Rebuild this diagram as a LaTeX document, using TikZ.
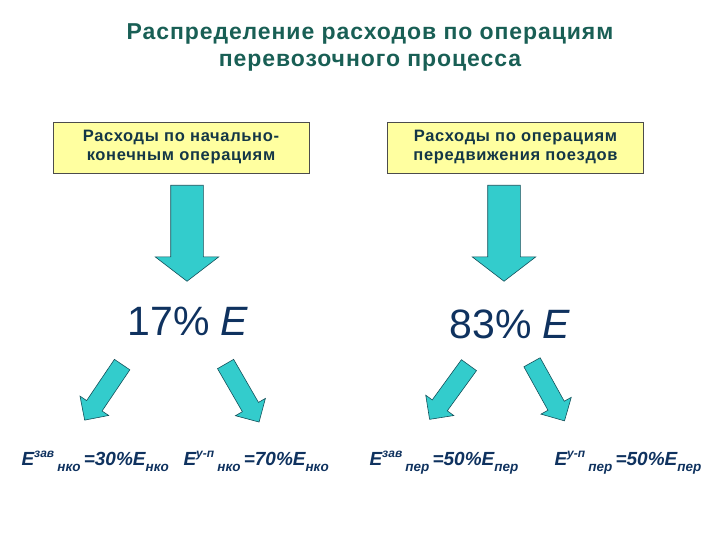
\documentclass[tikz,border=0pt]{standalone}
\usepackage{fontspec}
\setmainfont{Liberation Sans}
\newfontfamily\widesans[LetterSpace=4]{Liberation Sans}
\usetikzlibrary{shapes.arrows}
\definecolor{titlegreen}{RGB}{25,95,85}
\definecolor{boxtext}{RGB}{20,55,70}
\definecolor{pctblue}{RGB}{15,50,95}
\definecolor{arrowcyan}{RGB}{51,204,204}
\definecolor{arrowline}{RGB}{20,80,90}
\definecolor{boxyellow}{RGB}{255,255,160}
\newcommand{\upidx}[1]{\raisebox{0.42em}{\fontsize{12}{12}\selectfont #1}}
\newcommand{\lowidx}[1]{\raisebox{-0.32em}{\fontsize{13.5}{13.5}\selectfont #1}}

\begin{document}
\begin{tikzpicture}[x=1pt,y=-1pt,
      costbox/.style={draw=black!70,fill=boxyellow,thin,minimum width=256,minimum height=51,
        align=center,text=boxtext,font=\widesans\fontsize{16.5}{19}\selectfont\bfseries},
      fatarrow/.style={single arrow,draw=arrowline,fill=arrowcyan,line width=0.6pt,inner xsep=0pt},
      downarrow/.style={fatarrow,minimum height=96,inner ysep=16pt,single arrow head extend=15.5pt,
        single arrow tip angle=105,rotate=-90},
      sidearrow/.style={fatarrow,minimum height=67,inner ysep=9pt,single arrow head extend=8pt,
        single arrow tip angle=90},
      pct/.style={text=pctblue,anchor=base,font=\fontsize{41}{41}\selectfont},
      share/.style={text=pctblue,anchor=base west,font=\fontsize{19}{20}\selectfont\bfseries\itshape}]
      \useasboundingbox(0,0)rectangle(720,540);
      % title
      \node[text=titlegreen,align=center,font=\widesans\fontsize{23}{27}\selectfont\bfseries](title)at(370,47)
         {Распределение расходов по операциям\\перевозочного процесса};
      % two groups of costs
      \node[costbox](nko)at(181,147.5){Расходы по начально-\\конечным операциям};
      \node[costbox](per)at(515.5,147.5){Расходы по операциям\\передвижения поездов};
      \node[downarrow](nkoarrow)at(187,227){};
      \node[downarrow](perarrow)at(504,227){};
      \node[pct](nkopct)at(188,335){17\% \textit{E}};
      \node[pct](perpct)at(510,338){83\% \textit{E}};
      % split of each group
      \node[sidearrow,rotate=-124](nkoleft)at(106,388.5){};
      \node[sidearrow,rotate=-60](nkoright)at(240,389){};
      \node[sidearrow,rotate=-126](perleft)at(452,388.5){};
      \node[sidearrow,rotate=-61](perright)at(546,387.5){};
      \node[share](nkozav)at(18,465){E\upidx{зав}\,\lowidx{нко}\,=30\%E\lowidx{нко}};
      \node[share](nkoup)at(180,465){E\upidx{у-п}\,\lowidx{нко}\,=70\%E\lowidx{нко}};
      \node[share](perzav)at(366,465){E\upidx{зав}\,\lowidx{пер}\,=50\%E\lowidx{пер}};
      \node[share](perup)at(551,465){E\upidx{у-п}\,\lowidx{пер}\,=50\%E\lowidx{пер}};
    \end{tikzpicture}
\end{document}
